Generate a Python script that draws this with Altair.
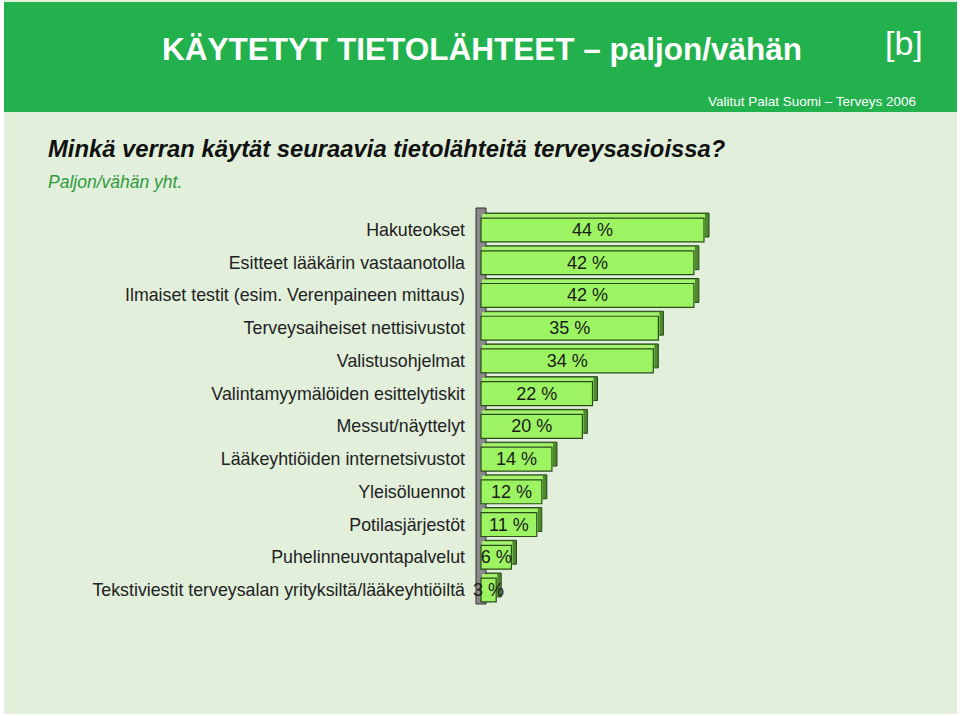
import altair as alt
import pandas as pd

categories = [
    "Hakuteokset",
    "Esitteet lääkärin vastaanotolla",
    "Ilmaiset testit (esim. Verenpaineen mittaus)",
    "Terveysaiheiset nettisivustot",
    "Valistusohjelmat",
    "Valintamyymälöiden esittelytiskit",
    "Messut/näyttelyt",
    "Lääkeyhtiöiden internetsivustot",
    "Yleisöluennot",
    "Potilasjärjestöt",
    "Puhelinneuvontapalvelut",
    "Tekstiviestit terveysalan yrityksiltä/lääkeyhtiöiltä",
]
values = [44, 42, 42, 35, 34, 22, 20, 14, 12, 11, 6, 3]
value_labels = ["44 %", "42 %", "42 %", "35 %", "34 %", "22 %", "20 %", "14 %", "12 %", "11 %", "6 %", "3 %"]

title_text = "KÄYTETYT TIETOLÄHTEET – paljon/vähän"
tag_text = "[b]"
source_text = "Valitut Palat Suomi – Terveys 2006"
question_text = "Minkä verran käytät seuraavia tietolähteitä terveysasioissa?"
sub_text = "Paljon/vähän yht."

df = pd.DataFrame({"cat": categories, "value": values, "label": value_labels})
one = pd.DataFrame({"a": [0]})

FONT = "Liberation Sans"

yenc = alt.Y("cat:N", sort=categories, axis=None,
             scale=alt.Scale(range=[213.65, 606.35], paddingInner=0.27, paddingOuter=0.135))
xscale = alt.Scale(domain=[0, 44], range=[481, 704])

bg = alt.Chart(one).mark_rect(color="#e1efdb").encode(
    x=alt.value(4), x2=alt.value(957), y=alt.value(0), y2=alt.value(714))
header = alt.Chart(one).mark_rect(color="#22b14c").encode(
    x=alt.value(4), x2=alt.value(957), y=alt.value(2), y2=alt.value(112))
title = alt.Chart(one).mark_text(font=FONT, fontWeight="bold", fontSize=31.5,
                                 color="white", align="left", baseline="alphabetic").encode(
    x=alt.value(162), y=alt.value(60), text=alt.value(title_text))
tag = alt.Chart(one).mark_text(font=FONT, fontSize=34, color="white", align="left",
                               baseline="alphabetic").encode(
    x=alt.value(885), y=alt.value(55), text=alt.value(tag_text))
source = alt.Chart(one).mark_text(font=FONT, fontSize=13.5, color="white",
                                  align="right", baseline="alphabetic").encode(
    x=alt.value(916), y=alt.value(106), text=alt.value(source_text))
question = alt.Chart(one).mark_text(font=FONT, fontSize=23.8, fontWeight="bold", fontStyle="italic",
                                    color="#111111", align="left", baseline="alphabetic").encode(
    x=alt.value(48), y=alt.value(157), text=alt.value(question_text))
sub = alt.Chart(one).mark_text(font=FONT, fontSize=17.5, fontStyle="italic",
                               color="#2e9b3c", align="left", baseline="alphabetic").encode(
    x=alt.value(48), y=alt.value(188), text=alt.value(sub_text))
wall = alt.Chart(one).mark_rect(color="#8a8a8a", stroke="#333333", strokeWidth=1).encode(
    x=alt.value(476), x2=alt.value(486), y=alt.value(208), y2=alt.value(604))

base = alt.Chart(df)
side = base.mark_bar(color="#4d8a2c", stroke="#24431a", strokeWidth=1,
                     xOffset=5, x2Offset=5, yOffset=-5, y2Offset=-5).encode(
    x=alt.X("value:Q", scale=xscale, axis=None), y=yenc)
top = base.mark_bar(color="#a4f36c", strokeWidth=0,
                    xOffset=1, x2Offset=1, yOffset=-4, y2Offset=-4).encode(
    x=alt.X("value:Q", scale=xscale, axis=None), y=yenc)
front = base.mark_bar(color="#9cf462", stroke="#2a4d1a", strokeWidth=1.2).encode(
    x=alt.X("value:Q", scale=xscale, axis=None), y=yenc)
cat_labels = base.mark_text(font=FONT, fontSize=17.8, color="#222222", align="right",
                            baseline="middle", dy=1).encode(
    x=alt.value(465), y=yenc, text="cat:N")
val_labels = base.transform_calculate(mid="datum.value / 2").mark_text(
    font=FONT, fontSize=18, color="#1a1a1a", align="center", baseline="middle", dy=1).encode(
    x=alt.X("mid:Q", scale=xscale, axis=None), y=yenc, text="label:N")

chart = alt.layer(bg, header, title, tag, source, question, sub, wall, side, top, front,
                  cat_labels, val_labels).properties(
    width=960, height=716, autosize=alt.AutoSizeParams(type="none"), padding=0,
    background="white").configure_view(strokeWidth=0)

chart.save("out.html", embed_options={"renderer": "svg", "actions": False})
